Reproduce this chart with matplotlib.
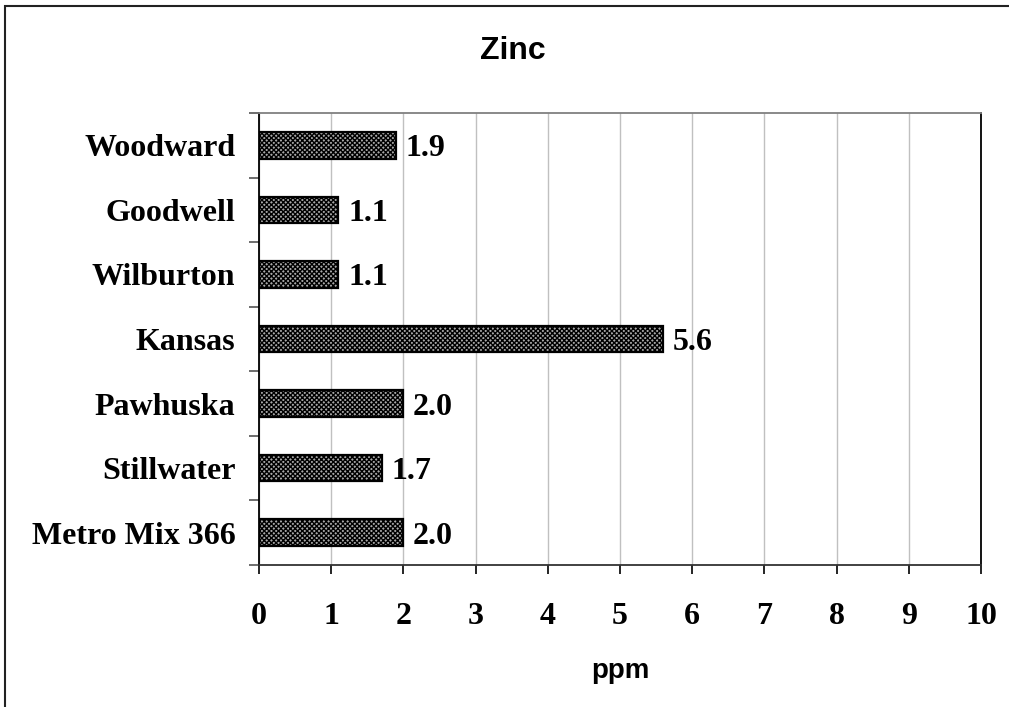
import matplotlib.pyplot as plt
from matplotlib.patches import Rectangle

sites = ['Metro Mix 366', 'Stillwater', 'Pawhuska', 'Kansas',
         'Wilburton', 'Goodwell', 'Woodward']
zinc_ppm = [2.0, 1.7, 2.0, 5.6, 1.1, 1.1, 1.9]
x_ticks = list(range(0, 11))

plt.rcParams['hatch.linewidth'] = 1.0
plt.rcParams['hatch.color'] = 'black'

serif = 'Liberation Serif'
sans = 'Liberation Sans'
label_size = 23

fig = plt.figure(figsize=(10.09, 7.07), dpi=100)
ax = fig.add_axes([259 / 1009, 1 - 565 / 707, 722 / 1009, 452 / 707])

ypos = range(len(sites))
ax.barh(ypos, zinc_ppm, height=0.41, color='#a8a8a8', edgecolor='black',
        linewidth=1.6, hatch='xxxxxxx', zorder=3)

for y, v in zip(ypos, zinc_ppm):
    ax.annotate(f'{v:.1f}', (v, y), xytext=(7, 0), textcoords='offset points',
                ha='left', va='center_baseline', fontsize=label_size,
                fontweight='bold', family=serif)

ax.set_xlim(0, 10)
ax.set_ylim(-0.5, len(sites) - 0.5)
ax.set_xticks(x_ticks)
ax.set_xticklabels([str(t) for t in x_ticks], fontsize=label_size,
                   fontweight='bold', family=serif)
ax.set_yticks(list(ypos))
ax.set_yticklabels(sites, fontsize=label_size, fontweight='bold',
                   family=serif, va='center_baseline')

# category boundary ticks on the value axis side
ax.set_yticks([i - 0.5 for i in range(len(sites) + 1)], minor=True)
ax.tick_params(axis='y', which='major', length=0, pad=17)
ax.tick_params(axis='y', which='minor', length=7, width=1.2,
               color='#555555', direction='out')
ax.tick_params(axis='x', length=6.5, width=1.2, direction='out', pad=20.5)

ax.grid(axis='x', color='#c0c0c0', linewidth=1.0, zorder=0)
ax.set_axisbelow(True)

for side in ('left', 'bottom', 'right'):
    ax.spines[side].set_color('black')
    ax.spines[side].set_linewidth(1.3)
ax.spines['top'].set_color('#808080')
ax.spines['top'].set_linewidth(1.3)
ax.spines['bottom'].set_color('#333333')

ax.set_xlabel('ppm', fontsize=20, fontweight='bold', family=sans,
              labelpad=19)

fig.text(513 / 1009, 1 - 51 / 707, 'Zinc', ha='center', va='center',
         fontsize=23, fontweight='bold', family=sans)

# outer chart frame
fig.patches.append(Rectangle((5 / 1009, -0.1), 1.2, 1.1 - 6 / 707,
                             transform=fig.transFigure, fill=False,
                             edgecolor='#222222', linewidth=1.5))

fig.savefig('out.png', dpi=100, facecolor='white')
